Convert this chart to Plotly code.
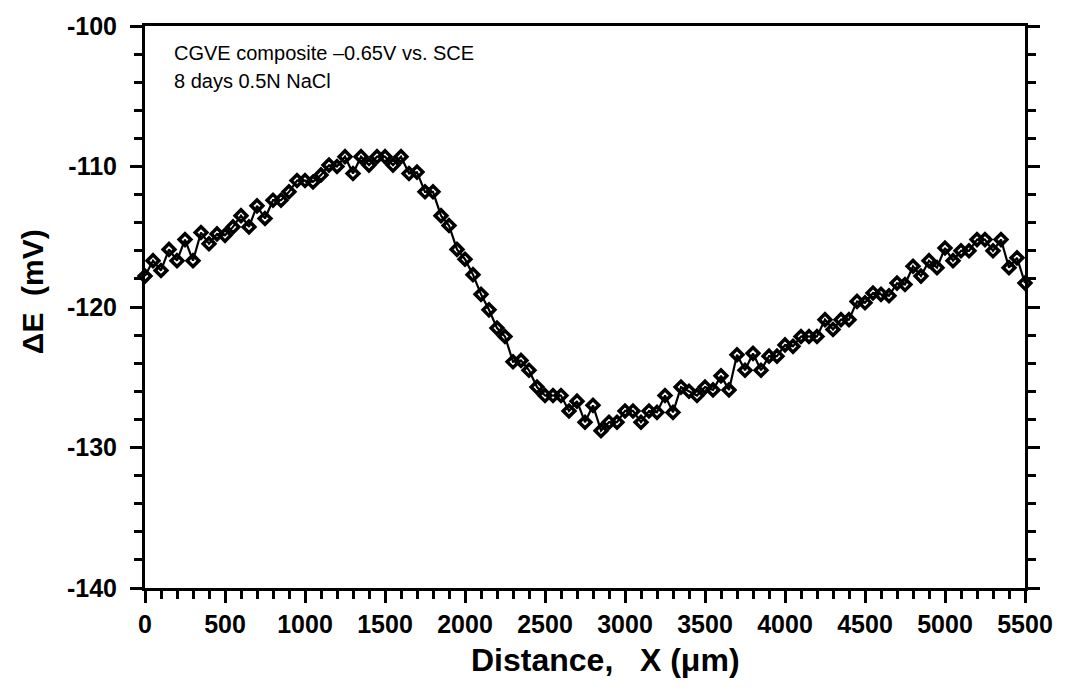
import plotly.graph_objects as go

# Scan positions along the line profile (µm)
distance_um = [
    0, 50, 100, 150, 200, 250, 300, 350, 400, 450,
    500, 550, 600, 650, 700, 750, 800, 850, 900, 950,
    1000, 1050, 1100, 1150, 1200, 1250, 1300, 1350, 1400, 1450,
    1500, 1550, 1600, 1650, 1700, 1750, 1800, 1850, 1900, 1950,
    2000, 2050, 2100, 2150, 2200, 2250, 2300, 2350, 2400, 2450,
    2500, 2550, 2600, 2650, 2700, 2750, 2800, 2850, 2900, 2950,
    3000, 3050, 3100, 3150, 3200, 3250, 3300, 3350, 3400, 3450,
    3500, 3550, 3600, 3650, 3700, 3750, 3800, 3850, 3900, 3950,
    4000, 4050, 4100, 4150, 4200, 4250, 4300, 4350, 4400, 4450,
    4500, 4550, 4600, 4650, 4700, 4750, 4800, 4850, 4900, 4950,
    5000, 5050, 5100, 5150, 5200, 5250, 5300, 5350, 5400, 5450,
    5500,
]

# Potential difference measured at each position (mV)
delta_e_mv = [
    -117.8, -116.7, -117.4, -115.9, -116.7, -115.2, -116.7, -114.7, -115.5, -114.8,
    -114.9, -114.3, -113.5, -114.3, -112.8, -113.7, -112.4, -112.4, -111.8, -111.0,
    -111.0, -111.1, -110.6, -109.9, -110.0, -109.3, -110.5, -109.3, -109.9, -109.3,
    -109.3, -109.9, -109.3, -110.5, -110.4, -111.8, -111.8, -113.5, -114.2, -115.9,
    -116.6, -117.7, -119.1, -120.2, -121.5, -122.1, -123.9, -123.8, -124.5, -125.7,
    -126.3, -126.3, -126.3, -127.4, -126.7, -128.2, -127.0, -128.8, -128.2, -128.2,
    -127.4, -127.4, -128.2, -127.4, -127.5, -126.3, -127.5, -125.7, -126.0, -126.3,
    -125.7, -125.9, -124.9, -125.9, -123.4, -124.5, -123.3, -124.5, -123.5, -123.5,
    -122.7, -122.8, -122.1, -122.1, -122.1, -120.9, -121.6, -120.9, -120.9, -119.6,
    -119.7, -119.0, -119.1, -119.2, -118.3, -118.4, -117.1, -117.8, -116.7, -117.2,
    -115.8, -116.7, -116.0, -116.0, -115.2, -115.2, -116.0, -115.2, -117.2, -116.5,
    -118.3,
]

# Tick positions and labels (labels use a plain hyphen for the minus sign)
x_tick_vals = [0, 500, 1000, 1500, 2000, 2500, 3000, 3500, 4000, 4500, 5000, 5500]
x_tick_text = ["0", "500", "1000", "1500", "2000", "2500", "3000",
               "3500", "4000", "4500", "5000", "5500"]
y_tick_vals = [-140, -130, -120, -110, -100]
y_tick_text = ["-140", "-130", "-120", "-110", "-100"]

x_range = [0, 5500]
y_range = [-140, -100]
x_minor_vals = [v for v in range(0, 5501, 100) if v % 500]
y_minor_vals = [v for v in range(-140, -99, 2) if v % 10]

FONT = "Arial, Liberation Sans, Helvetica, sans-serif"

fig = go.Figure()
fig.add_trace(go.Scatter(
    x=distance_um,
    y=delta_e_mv,
    mode="lines+markers",
    line=dict(color="black", width=2.2),
    marker=dict(symbol="diamond-open", size=9, color="black",
                line=dict(color="black", width=3.5)),
    showlegend=False,
    cliponaxis=False,
))

axis_common = dict(
    showgrid=False,
    zeroline=False,
    showline=True,
    linecolor="black",
    linewidth=3,
    ticks="outside",
    tickcolor="black",
    tickwidth=3,
    ticklen=12,
    tickmode="array",
    tickfont=dict(family=FONT, size=25, color="black", weight="bold"),
)
minor_common = dict(ticks="outside", ticklen=8, tickwidth=2.5,
                    tickcolor="black", showgrid=False, tickmode="array")

fig.update_xaxes(
    **axis_common,
    range=x_range,
    tickvals=x_tick_vals,
    ticktext=x_tick_text,
    mirror=True,
    minor=dict(**minor_common, tickvals=x_minor_vals),
)
fig.update_yaxes(
    **axis_common,
    range=y_range,
    tickvals=y_tick_vals,
    ticktext=y_tick_text,
    mirror="ticks",
    ticklabelstandoff=8,
    minor=dict(**minor_common, tickvals=y_minor_vals),
)

annotations = [
    dict(text="CGVE composite \u20130.65V vs. SCE", x=0.031, y=0.975,
         xanchor="left", yanchor="top",
         font=dict(family=FONT, size=20, color="black")),
    dict(text="8 days 0.5N NaCl", x=0.031, y=0.925,
         xanchor="left", yanchor="top",
         font=dict(family=FONT, size=20, color="black")),
    dict(text="Distance,\u00a0\u00a0\u00a0X\u00a0(\u03bcm)", x=0.523, y=-0.128,
         xanchor="center", yanchor="middle",
         font=dict(family=FONT, size=32, color="black", weight="bold")),
    dict(text="\u0394E\u00a0\u00a0(mV)", x=-0.128, y=0.527, textangle=-90,
         xanchor="center", yanchor="middle",
         font=dict(family=FONT, size=30, color="black", weight="bold")),
]
for a in annotations:
    a.update(xref="paper", yref="paper", showarrow=False)

fig.update_layout(
    width=1066,
    height=692,
    margin=dict(l=145, r=41, t=22, b=104),
    paper_bgcolor="white",
    plot_bgcolor="white",
    annotations=annotations,
)

fig.write_html("out.html")
